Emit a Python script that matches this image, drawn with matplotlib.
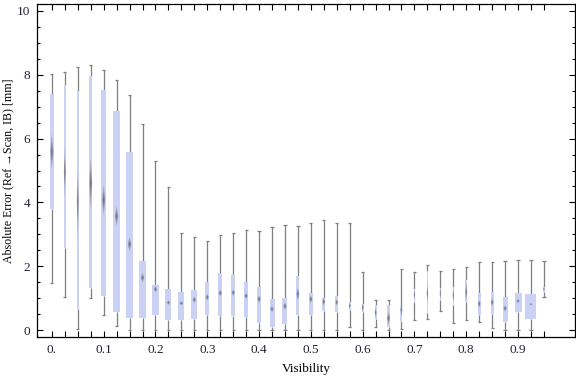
import numpy as np
import matplotlib
matplotlib.use("Agg")
import matplotlib.pyplot as plt
from matplotlib.ticker import MultipleLocator, FixedLocator

plt.rcParams['font.family'] = ['Liberation Serif', 'DejaVu Serif']

# visibility bins (box centres)
visibility = [i * 0.025 for i in range(39)]

# whisker low / q1 / median / q3 / whisker high  (mm)
w_low = [1.48, 1.03, 0.02, 0.99, 0.47, 0.13, 0.0, 0.0, 0.0, 0.0,
         0.0, 0.0, 0.0, 0.0, 0.0, 0.0, 0.0, 0.0, 0.0, 0.0,
         0.0, 0.0, 0.0, 0.08, 0.0, 0.08, 0.0, 0.02, 0.30, 0.33,
         0.59, 0.23, 0.32, 0.26, 0.05, 0.0, 0.0, 0.0, 1.02]
q1 = [3.78, 2.56, 0.66, 1.31, 1.06, 0.55, 0.39, 0.39, 0.47, 0.32,
      0.32, 0.35, 0.48, 0.45, 0.45, 0.42, 0.23, 0.10, 0.19, 0.47,
      0.47, 0.60, 0.56, 0.64, 0.55, 0.33, 0.08, 0.27, 0.89, 0.52,
      0.94, 0.78, 0.89, 0.46, 0.49, 0.26, 0.57, 0.35, 1.18]
median = [5.59, 4.96, 4.02, 4.60, 4.08, 3.57, 2.69, 1.64, 1.28, 0.86,
          0.84, 0.95, 1.03, 1.16, 1.17, 1.07, 0.97, 0.66, 0.75, 1.13,
          0.97, 0.89, 0.87, 0.76, 0.71, 0.55, 0.37, 0.63, 1.10, 1.15,
          1.15, 1.10, 1.20, 0.82, 0.87, 0.68, 0.91, 0.81, 1.28]
q3 = [7.39, 7.68, 7.50, 7.97, 7.52, 6.87, 5.58, 2.15, 1.40, 1.28,
      1.19, 1.25, 1.50, 1.79, 1.72, 1.50, 1.35, 0.97, 1.00, 1.68,
      1.16, 1.01, 1.07, 0.89, 0.81, 0.77, 0.77, 0.73, 1.29, 1.86,
      1.31, 1.34, 1.56, 1.15, 1.18, 1.02, 1.15, 1.13, 1.34]
w_high = [8.02, 8.08, 8.23, 8.30, 8.14, 7.84, 7.36, 6.45, 5.29, 4.47,
          3.03, 2.91, 2.79, 2.97, 3.03, 3.12, 3.10, 3.24, 3.28, 3.25,
          3.34, 3.44, 3.34, 3.34, 1.82, 0.93, 0.93, 1.90, 1.81, 2.03,
          1.84, 1.90, 1.97, 2.12, 2.12, 2.15, 2.18, 2.18, 2.15]
# half-height of the median confidence notch (mm)
notch = [0.55, 0.75, 1.0, 0.8, 0.47, 0.30, 0.22, 0.15, 0.10, 0.07,
         0.07, 0.10, 0.10, 0.10, 0.10, 0.10, 0.12, 0.10, 0.12, 0.20,
         0.12, 0.12, 0.10, 0.08, 0.12, 0.15, 0.20, 0.20, 0.20, 0.30,
         0.20, 0.25, 0.30, 0.12, 0.12, 0.10, 0.06, 0.03, 0.05]
# relative box width (sample weight), in pixels at this size
box_px = [3.3, 2, 2, 3, 5, 7, 7, 7, 7, 6,
          6, 6, 4, 4, 4, 4, 4, 5, 5, 3,
          3.3, 3, 3, 2.3, 2, 2, 3, 2, 1.5, 1.5,
          1.5, 1.5, 2, 3, 3, 5, 7, 11, 2]

fig = plt.figure(figsize=(5.76, 3.77), dpi=100)
ax = fig.add_axes([0.064, 0.106, 0.934, 0.8826])
ax.set_xlim(-0.029, 1.0097)
ax.set_ylim(-0.22, 10.21)

px = 1.0388 / (0.934 * 576)   # data units per pixel on x
x = np.array(visibility)
bw = np.array(box_px) * px

box_col = '#cbd1f4'
wcol = '#7f7f7f'

ax.vlines(x, w_low, q1, color=wcol, lw=0.9, zorder=2)
ax.vlines(x, q3, w_high, color=wcol, lw=0.9, zorder=2)
ax.hlines(w_low, x - 1.6 * px, x + 1.6 * px, color=wcol, lw=0.9, zorder=2)
ax.hlines(w_high, x - 1.6 * px, x + 1.6 * px, color=wcol, lw=0.9, zorder=2)
ax.bar(x, np.array(q3) - np.array(q1), bottom=q1, width=bw,
       color=box_col, edgecolor='none', zorder=3)

# median diamonds
for xi, m, h, w in zip(x, median, notch, bw):
    dw = min(w, 3.5 * px) / 2
    for scale, a in [(1.0, 0.45), (0.55, 0.7)]:
        ax.fill([xi - dw * scale, xi, xi + dw * scale, xi],
                [m, m + h * scale, m, m - h * scale],
                color='#6a6a72', alpha=a, lw=0, zorder=4)

ax.xaxis.set_major_locator(FixedLocator([0.0, 0.1, 0.2, 0.3, 0.4, 0.5, 0.6, 0.7, 0.8, 0.9]))
ax.xaxis.set_minor_locator(FixedLocator(visibility))
ax.set_xticklabels(['0.', '0.1', '0.2', '0.3', '0.4', '0.5', '0.6', '0.7', '0.8', '0.9'])
ax.yaxis.set_major_locator(MultipleLocator(2))
ax.yaxis.set_minor_locator(MultipleLocator(0.5))

ax.tick_params(which='both', direction='in', top=True, right=True,
               labelsize=9.5, labelcolor='#222233', color='black', width=0.8)
ax.tick_params(which='major', length=4, pad=5)
ax.tick_params(which='minor', length=4)
ax.tick_params(axis='y', which='minor', length=2.5)
for s in ax.spines.values():
    s.set_linewidth(0.9)

ax.set_xlabel('Visibility', fontsize=9.5, labelpad=5)
ax.set_ylabel('Absolute Error (Ref \u2192Scan, IB) [mm]', fontsize=8.6)
ax.yaxis.set_label_coords(-0.042, 0.5)

fig.savefig('out.png', dpi=100)
